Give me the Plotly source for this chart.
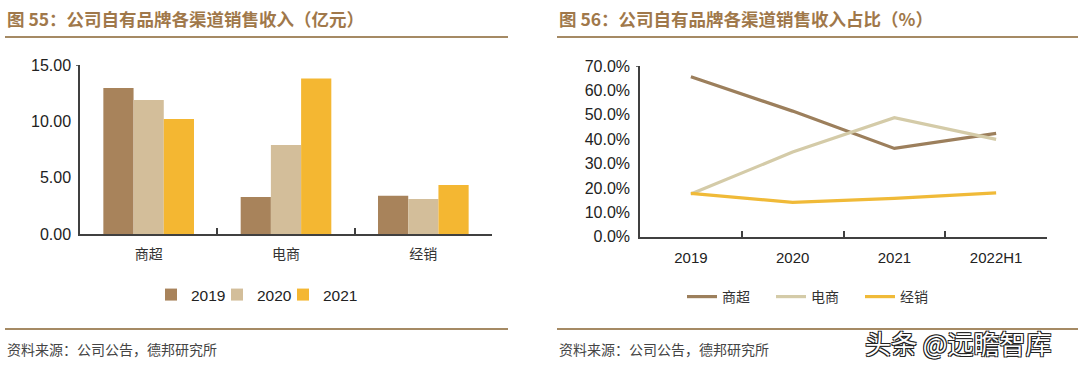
import plotly.graph_objects as go

# ---------- data ----------
bar_categories = ["商超", "电商", "经销"]
bar_years = ["2019", "2020", "2021"]
rev_2019 = [12.95, 3.28, 3.40]
rev_2020 = [11.90, 7.90, 3.10]
rev_2021 = [10.20, 13.80, 4.35]
bar_colors = ["#A8835B", "#D3BE9A", "#F4B732"]

line_periods = ["2019", "2020", "2021", "2022H1"]
share_shangchao = [65.6, 51.5, 36.2, 42.4]
share_dianshang = [17.5, 34.7, 48.8, 39.9]
share_jingxiao = [17.8, 14.1, 15.7, 18.0]
line_names = ["商超", "电商", "经销"]
line_colors = ["#9C7F5C", "#D4CBA8", "#F0BA38"]

left_ticks = [0, 5, 10, 15]
left_ticktext = ["0.00", "5.00", "10.00", "15.00"]
right_ticks = [0, 10, 20, 30, 40, 50, 60, 70]
right_ticktext = ["0.0%", "10.0%", "20.0%", "30.0%", "40.0%", "50.0%", "60.0%", "70.0%"]

W, H = 1080, 366
def px(x):
    return x / W
def py(y):
    return 1 - y / H

CJK = "Noto Sans CJK SC"
LAT = "Liberation Sans, Arial"
AXC = "#404040"

fig = go.Figure()

for name, vals, col in zip(bar_years, [rev_2019, rev_2020, rev_2021], bar_colors):
    fig.add_trace(go.Bar(x=bar_categories, y=vals, name=name, marker=dict(color=col, line=dict(width=0)),
                         xaxis="x", yaxis="y", legend="legend"))
# invisible spacer entry so the last legend label is not clipped
fig.add_trace(go.Scatter(x=[None], y=[None], name=" ", mode="markers",
                         marker=dict(color="rgba(0,0,0,0)", size=1), hoverinfo="skip",
                         xaxis="x", yaxis="y", legend="legend"))

for name, vals, col in zip(line_names, [share_shangchao, share_dianshang, share_jingxiao], line_colors):
    fig.add_trace(go.Scatter(x=line_periods, y=vals, name=name, mode="lines",
                             line=dict(color=col, width=3.2),
                             xaxis="x2", yaxis="y2", legend="legend2"))

fig.update_layout(
    width=W, height=H,
    margin=dict(l=0, r=0, t=0, b=0, autoexpand=False),
    paper_bgcolor="white", plot_bgcolor="white",
    barmode="group", bargap=0.34, bargroupgap=0.0,
    showlegend=True,
    xaxis=dict(domain=[px(80), px(492)], type="category", range=[-0.5, 2.5],
               showline=True, linecolor=AXC, linewidth=1.5,
               ticks="inside", tickson="boundaries", ticklen=6, tickcolor=AXC, tickwidth=1.5,
               showgrid=False, zeroline=False, automargin=False, ticklabelstandoff=6,
               tickfont=dict(family=CJK, size=14, color="#333"), anchor="y"),
    yaxis=dict(domain=[py(234), py(65)], range=[0, 15],
               tickvals=left_ticks, ticktext=left_ticktext,
               showline=True, linecolor=AXC, linewidth=1.5, ticks="",
               showgrid=False, zeroline=False, automargin=False, ticklabelstandoff=4,
               tickfont=dict(family=LAT, size=16, color="#222"), anchor="x"),
    xaxis2=dict(domain=[px(640), px(1047)], type="category", range=[-0.5, 3.5],
                showline=True, linecolor=AXC, linewidth=1.5,
                ticks="inside", tickson="boundaries", ticklen=6, tickcolor=AXC, tickwidth=1.5,
                showgrid=False, zeroline=False, automargin=False, ticklabelstandoff=7,
                tickfont=dict(family=LAT, size=15, color="#222"), anchor="y2"),
    yaxis2=dict(domain=[py(236.7), py(66)], range=[0, 70],
                tickvals=right_ticks, ticktext=right_ticktext,
                showline=True, linecolor=AXC, linewidth=1.5, ticks="",
                showgrid=False, zeroline=False, automargin=False, ticklabelstandoff=5,
                tickfont=dict(family=LAT, size=16, color="#222"), anchor="x2"),
    legend=dict(orientation="h", x=px(151), xanchor="left", y=py(295), yanchor="middle",
                font=dict(family=LAT, size=15.5, color="#222"), itemwidth=30,
                entrywidth=21, entrywidthmode="pixels",
                tracegroupgap=0, bgcolor="rgba(0,0,0,0)"),
    legend2=dict(orientation="h", x=px(682), xanchor="left", y=py(297), yanchor="middle",
                 font=dict(family=CJK, size=14, color="#333"), itemwidth=30,
                 entrywidth=44, entrywidthmode="pixels",
                 bgcolor="rgba(0,0,0,0)"),
)

# titles
title_color = "#A0784A"
fig.add_annotation(text="<b>图 55：公司自有品牌各渠道销售收入（亿元）</b>", x=px(5), y=py(18),
                   xref="paper", yref="paper", xanchor="left", yanchor="middle", showarrow=False,
                   font=dict(family=CJK, size=17.5, color=title_color))
fig.add_annotation(text="<b>图 56：公司自有品牌各渠道销售收入占比（%）</b>", x=px(557), y=py(18),
                   xref="paper", yref="paper", xanchor="left", yanchor="middle", showarrow=False,
                   font=dict(family=CJK, size=17.5, color=title_color))
# sources
for x0 in [5, 557]:
    fig.add_annotation(text="资料来源：公司公告，德邦研究所", x=px(x0), y=py(349),
                       xref="paper", yref="paper", xanchor="left", yanchor="middle", showarrow=False,
                       font=dict(family=CJK, size=14, color="#444"))

# separator lines
sep = "#A58A64"
for (x0, x1) in [(5, 508), (557, 1078)]:
    for yy in [37, 329]:
        fig.add_shape(type="line", xref="paper", yref="paper", x0=px(x0), x1=px(x1), y0=py(yy), y1=py(yy),
                      line=dict(color=sep, width=2))

# axis top caps
fig.add_shape(type="line", xref="paper", yref="y", x0=px(76), x1=px(80), y0=15, y1=15,
              line=dict(color=AXC, width=1.5))
fig.add_shape(type="line", xref="paper", yref="y2", x0=px(636), x1=px(640), y0=70, y1=70,
              line=dict(color=AXC, width=1.5))

# watermark
fig.add_annotation(text="头条 @远瞻智库", x=px(1053), y=py(342), xref="paper", yref="paper",
                   xanchor="right", yanchor="middle", showarrow=False,
                   font=dict(family=CJK, size=26, color="white",
                             shadow="1px 1px 0 #222, -1px -1px 0 #222, 1px -1px 0 #222, -1px 1px 0 #222"))

fig.write_html("out.html", config={"displayModeBar": False},
               post_script="document.body.style.margin='0';document.body.style.padding='0';")
